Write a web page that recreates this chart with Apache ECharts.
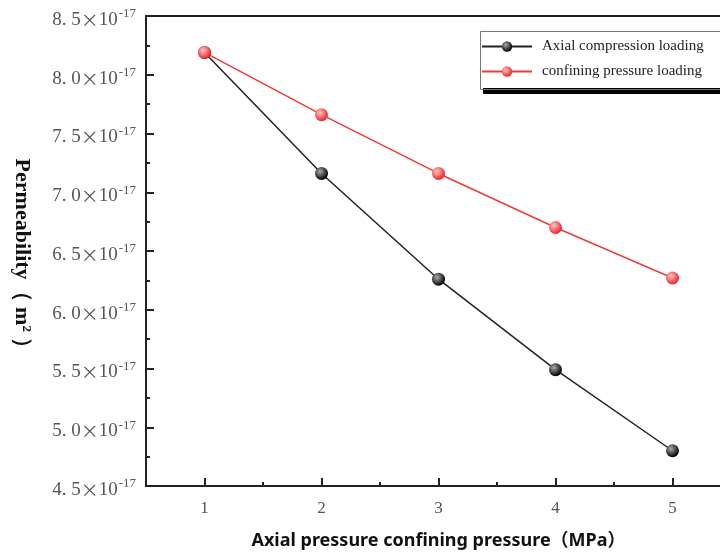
<!DOCTYPE html>
<html>
<head>
<meta charset="utf-8">
<script src="https://cdn.jsdelivr.net/npm/echarts@6/dist/echarts.min.js"></script>
<style>html,body{margin:0;padding:0;background:#fff}</style>
</head>
<body>
<div id="chart" style="width:720px;height:553px;"></div>
<script>
// permeability values in units of 1e-17 m^2
const pressures = ['1', '2', '3', '4', '5']
const axialLoading = [8.19, 7.16, 6.26, 5.49, 4.80]
const confiningLoading = [8.19, 7.66, 7.16, 6.70, 6.27]
const seriesNames = ['Axial compression loading', 'confining pressure loading']

const chart = echarts.init(document.getElementById('chart'))

function ball(c1, c2) {
  return { type: 'radial', x: 0.38, y: 0.35, r: 0.65,
    colorStops: [{ offset: 0, color: c1 }, { offset: 1, color: c2 }] }
}

const serif = '"Liberation Serif", "DejaVu Serif", serif'
const box = { left: 146, top: 16, width: 585, height: 470, outerBoundsMode: 'none', containLabel: false }

chart.setOption({
  animation: false,
  grid: [
    Object.assign({ show: true, borderColor: '#222', borderWidth: 2 }, box),
    Object.assign({}, box)
  ],
  legend: {
    left: 478, top: 29, orient: 'vertical', itemWidth: 50, itemHeight: 13, itemGap: 10,
    padding: [10, 17, 9, 3],
    backgroundColor: '#fff', borderWidth: 0,
    shadowColor: '#000', shadowOffsetX: 5, shadowOffsetY: 6, shadowBlur: 0,
    textStyle: { fontFamily: serif, fontSize: 15, color: '#222', padding: [0, 0, 0, 5] },
    data: seriesNames
  },
  // thin frame round the legend box
  graphic: [{
    type: 'rect', left: 478, top: 29, z: 100, silent: true,
    shape: { width: 240, height: 58 },
    style: { fill: null, stroke: '#777', lineWidth: 1 }
  }],
  xAxis: [{
    gridIndex: 0, type: 'category', data: pressures, boundaryGap: true,
    name: 'Axial pressure confining pressure（MPa）', nameLocation: 'middle', nameGap: 46,
    nameTextStyle: { fontFamily: '"Noto Sans", "Noto Sans CJK SC", sans-serif', fontWeight: 'bold', fontSize: 18, color: '#111' },
    axisLine: { lineStyle: { color: '#222', width: 2 } },
    axisTick: { show: true, inside: true, alignWithLabel: true, length: 8, lineStyle: { color: '#222', width: 2 } },
    axisLabel: { margin: 14, fontFamily: serif, fontSize: 17, color: '#555' },
    splitLine: { show: false }
  }, {
    gridIndex: 1, type: 'category', data: pressures, boundaryGap: true, position: 'bottom', z: 10,
    axisLine: { show: true, lineStyle: { color: 'rgba(0,0,0,0)', width: 0 } },
    axisTick: { show: true, inside: true, alignWithLabel: false, length: 4, lineStyle: { color: '#222', width: 2 } },
    axisLabel: { show: false }, splitLine: { show: false }
  }],
  yAxis: [{
    gridIndex: 0, type: 'value', min: 4.5, max: 8.5, interval: 0.5,
    name: 'Permeability（ m{s|2} ）', nameLocation: 'middle', nameGap: 113, nameRotate: -90,
    nameTextStyle: { fontFamily: serif, fontWeight: 'bold', fontSize: 22, color: '#111', padding: [0, 0, 0, 16],
      rich: { s: { fontFamily: serif, fontWeight: 'bold', fontSize: 13, color: '#111', verticalAlign: 'top', padding: [0, 0, 9, 0] } } },
    axisLine: { show: true, lineStyle: { color: '#222', width: 2 } },
    axisTick: { show: true, inside: true, length: 8, lineStyle: { color: '#222', width: 2 } },
    minorTick: { show: true, splitNumber: 2, length: 4, lineStyle: { color: '#222', width: 2 } },
    axisLabel: {
      margin: 10,
      formatter: v => '{a|' + v.toFixed(1).replace('.', '. ') + '}{x|×}{a|10}{b|-17}',
      rich: {
        a: { fontFamily: serif, fontSize: 19, color: '#555', padding: [8, 0, 0, 0] },
        x: { fontFamily: '"Noto Sans CJK SC", sans-serif', fontSize: 18, color: '#555', padding: [8, 0, 0, 0] },
        b: { fontFamily: serif, fontSize: 13, color: '#555', verticalAlign: 'top', padding: [5, 0, 0, 1] }
      }
    },
    splitLine: { show: false }
  }, {
    gridIndex: 1, type: 'value', min: 4.5, max: 8.5, show: false
  }],
  series: [{
    name: seriesNames[0], type: 'line', data: axialLoading,
    symbol: 'circle', symbolSize: 13,
    lineStyle: { color: '#222', width: 1.5 },
    itemStyle: { color: ball('#aaa', '#000') }
  }, {
    name: seriesNames[1], type: 'line', data: confiningLoading,
    symbol: 'circle', symbolSize: 13,
    lineStyle: { color: '#f03a3a', width: 1.5 },
    itemStyle: { color: ball('#ffc4c4', '#e8262a') }
  }]
})
</script>
</body>
</html>
